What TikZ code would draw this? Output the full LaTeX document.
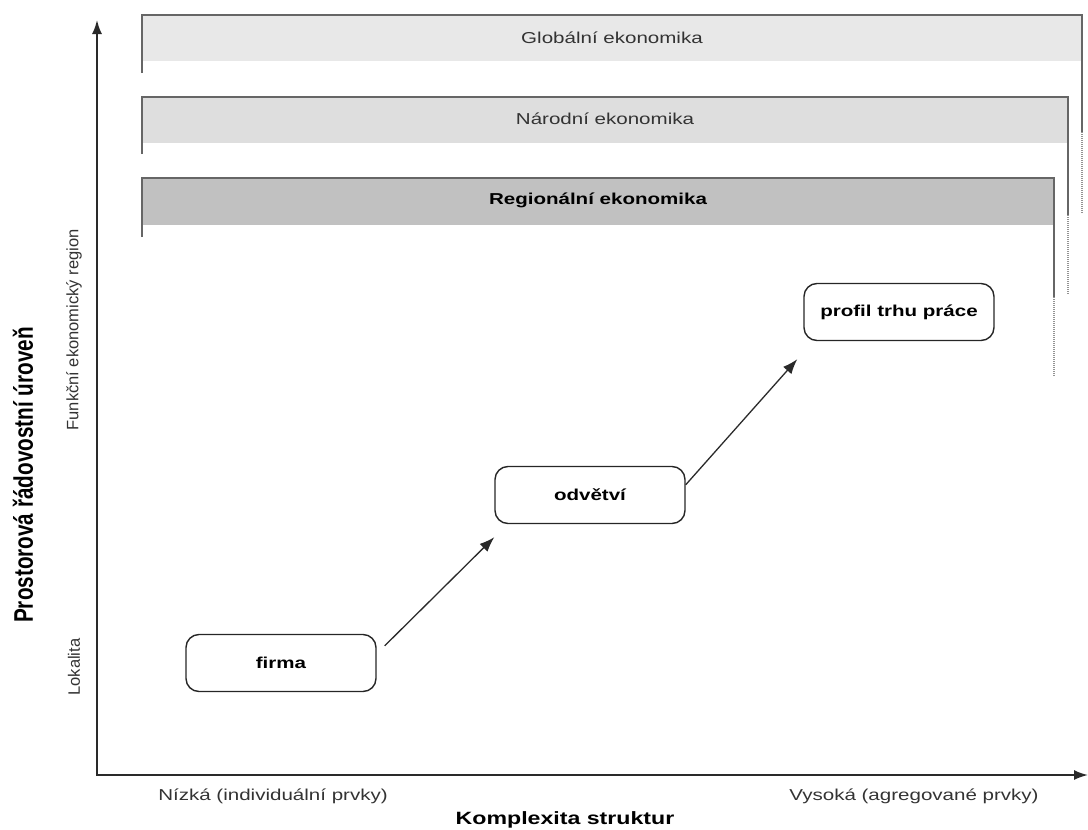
\documentclass[tikz,border=0pt]{standalone}
\usepackage{fontspec}
\setmainfont{Liberation Sans}
\usetikzlibrary{arrows.meta}
\newcommand{\hs}[1]{\scalebox{1.3}[1]{#1}}
\newcommand{\vs}[1]{\scalebox{1}[1.3]{#1}}
\definecolor{fillglob}{HTML}{E8E8E8}
\definecolor{fillnat}{HTML}{DEDEDE}
\definecolor{fillreg}{HTML}{C1C1C1}
\definecolor{barline}{HTML}{666666}
\definecolor{txtgray}{HTML}{333333}
\definecolor{axisgray}{HTML}{2A2A2A}
\begin{document}
\begin{tikzpicture}[x=1pt,y=-1pt,
  barline/.style={line width=2.2pt, draw=barline, line cap=butt, line join=miter},
  bardots/.style={line width=1.8pt, draw=gray!85, dash pattern=on 1pt off 1pt},
  bartext/.style={text=txtgray, font=\fontsize{15.8}{18}\selectfont},
  stagebox/.style={draw=black!85, line width=1.4pt, rounded corners=13pt,
    minimum width=190pt, minimum height=57pt, inner sep=0pt,
    font=\fontsize{15.8}{18}\selectfont\bfseries},
  axisline/.style={line width=1.8pt, draw=axisgray},
  flow/.style={line width=1.3pt, draw=axisgray, -{Latex[length=15pt,width=11pt]}},
  axlabel/.style={text=txtgray, font=\fontsize{15.8}{18}\selectfont},
  sidelabel/.style={text=txtgray, rotate=90, font=\fontsize{16.5}{19}\selectfont}
]
\useasboundingbox (0,0) rectangle (1088,830);

% Bars
\fill[fillglob] (142,15) rectangle (1082,61);
\draw[barline] (142,73) -- (142,15) -- (1082,15) -- (1082,132);
\draw[bardots] (1082,132) -- (1082,213);
\node[bartext] (glob) at (612,38) {\hs{Globální ekonomika}};

\fill[fillnat] (142,97) rectangle (1068,143);
\draw[barline] (142,154) -- (142,97) -- (1068,97) -- (1068,215);
\draw[bardots] (1068,215) -- (1068,295);
\node[bartext] (nat) at (605,119) {\hs{Národní ekonomika}};

\fill[fillreg] (142,178) rectangle (1054,225);
\draw[barline] (142,237) -- (142,178) -- (1054,178) -- (1054,297);
\draw[bardots] (1054,297) -- (1054,377);
\node[bartext, text=black, font=\fontsize{15.8}{18}\selectfont\bfseries] (reg) at (598,200) {\hs{Regionální ekonomika}};

% Axes
\coordinate (ytop) at (97,20);
\coordinate (orig) at (97,775);
\coordinate (xend) at (1088,775);
\draw[axisline, {Latex[length=14pt,width=10pt]}-{Latex[length=14pt,width=10pt]}] (ytop) -- (orig) -- (xend);

% Stage boxes
\node[stagebox] (firma) at (281,663) {\hs{firma}};
\node[stagebox] (odvetvi) at (590,495) {\hs{odvětví}};
\node[stagebox] (profil) at (899,312) {\hs{profil trhu práce}};

\draw[flow] ([shift={(8pt,-12pt)}]firma.north east) -- ([shift={(0pt,-13pt)}]odvetvi.south west);
\draw[flow] ([shift={(0pt,-19pt)}]odvetvi.north east) -- ([shift={(-6pt,-18pt)}]profil.south west);

% Axis labels
\node[axlabel] (low) at (273,796) {\hs{Nízká (individuální prvky)}};
\node[axlabel] (high) at (914,796) {\hs{Vysoká (agregované prvky)}};
\node[text=black, font=\fontsize{17.8}{20}\selectfont\bfseries] (xtitle) at (565,820) {\hs{Komplexita struktur}};

\node[rotate=90, text=black, font=\fontsize{20.7}{24}\selectfont\bfseries] (ytitle) at (23,475) {\vs{Prostorová řádovostní úroveň}};
\node[sidelabel] (fer) at (74,330) {Funkční ekonomický region};
\node[sidelabel] (lok) at (74,667) {Lokalita};
\end{tikzpicture}
\end{document}
